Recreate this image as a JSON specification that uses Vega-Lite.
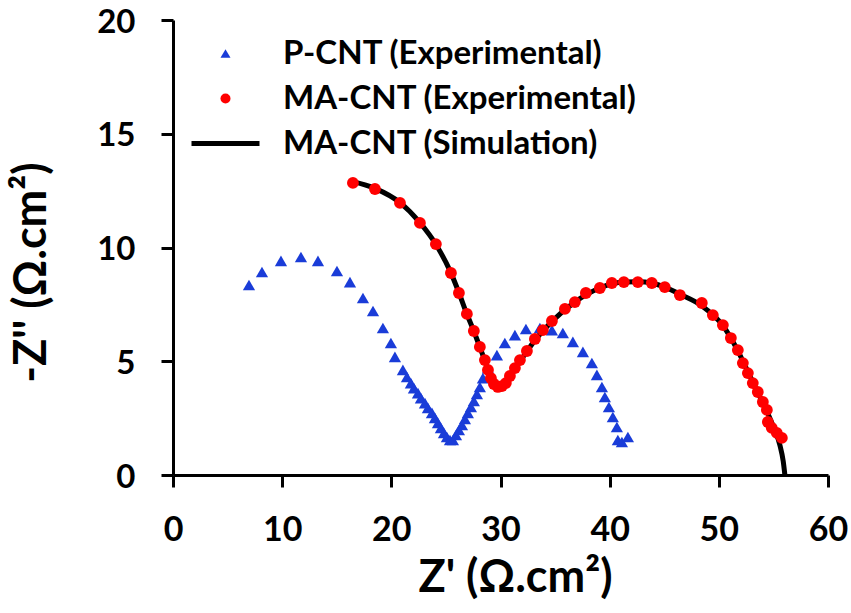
{
  "$schema": "https://vega.github.io/schema/vega-lite/v6.json",
  "width": 655,
  "height": 455,
  "autosize": {"type": "none"},
  "padding": {"left": 173, "top": 20, "right": 23, "bottom": 138},
  "background": "white",
  "config": {
    "view": {"stroke": null},
    "font": "Lato",
    "axis": {
      "grid": false,
      "domainColor": "black",
      "domainWidth": 3,
      "tickColor": "black",
      "tickWidth": 3,
      "tickSize": 12,
      "labelFont": "Lato",
      "labelFontWeight": "bold",
      "labelFontSize": 34,
      "labelColor": "black",
      "labelPadding": 26,
      "labelFlush": false,
      "labelOverlap": false,
      "titleFont": "Lato",
      "titleFontWeight": "bold",
      "titleFontSize": 45,
      "titleColor": "black"
    },
    "legend": {
      "labelFont": "Lato",
      "labelFontWeight": "bold",
      "labelFontSize": 33,
      "labelColor": "black",
      "labelLimit": 600
    }
  },
  "datasets": {
    "pcnt": [
      {"s": "P-CNT (Experimental)", "x": 6.96, "y": 8.35},
      {"s": "P-CNT (Experimental)", "x": 8.15, "y": 8.92},
      {"s": "P-CNT (Experimental)", "x": 9.89, "y": 9.41},
      {"s": "P-CNT (Experimental)", "x": 11.72, "y": 9.58},
      {"s": "P-CNT (Experimental)", "x": 13.28, "y": 9.41},
      {"s": "P-CNT (Experimental)", "x": 15.02, "y": 8.97},
      {"s": "P-CNT (Experimental)", "x": 16.21, "y": 8.48},
      {"s": "P-CNT (Experimental)", "x": 17.40, "y": 7.78},
      {"s": "P-CNT (Experimental)", "x": 18.32, "y": 7.21},
      {"s": "P-CNT (Experimental)", "x": 19.23, "y": 6.46},
      {"s": "P-CNT (Experimental)", "x": 19.96, "y": 5.80},
      {"s": "P-CNT (Experimental)", "x": 20.33, "y": 5.19},
      {"s": "P-CNT (Experimental)", "x": 21.06, "y": 4.62},
      {"s": "P-CNT (Experimental)", "x": 21.43, "y": 4.31},
      {"s": "P-CNT (Experimental)", "x": 21.79, "y": 4.04},
      {"s": "P-CNT (Experimental)", "x": 22.07, "y": 3.82},
      {"s": "P-CNT (Experimental)", "x": 22.44, "y": 3.60},
      {"s": "P-CNT (Experimental)", "x": 22.71, "y": 3.38},
      {"s": "P-CNT (Experimental)", "x": 23.08, "y": 3.16},
      {"s": "P-CNT (Experimental)", "x": 23.35, "y": 2.95},
      {"s": "P-CNT (Experimental)", "x": 23.72, "y": 2.73},
      {"s": "P-CNT (Experimental)", "x": 23.99, "y": 2.51},
      {"s": "P-CNT (Experimental)", "x": 24.27, "y": 2.29},
      {"s": "P-CNT (Experimental)", "x": 24.54, "y": 2.07},
      {"s": "P-CNT (Experimental)", "x": 24.82, "y": 1.85},
      {"s": "P-CNT (Experimental)", "x": 25.09, "y": 1.67},
      {"s": "P-CNT (Experimental)", "x": 25.37, "y": 1.54},
      {"s": "P-CNT (Experimental)", "x": 25.64, "y": 1.54},
      {"s": "P-CNT (Experimental)", "x": 25.92, "y": 1.76},
      {"s": "P-CNT (Experimental)", "x": 26.19, "y": 1.98},
      {"s": "P-CNT (Experimental)", "x": 26.47, "y": 2.20},
      {"s": "P-CNT (Experimental)", "x": 26.74, "y": 2.46},
      {"s": "P-CNT (Experimental)", "x": 27.01, "y": 2.73},
      {"s": "P-CNT (Experimental)", "x": 27.29, "y": 2.99},
      {"s": "P-CNT (Experimental)", "x": 27.56, "y": 3.25},
      {"s": "P-CNT (Experimental)", "x": 27.84, "y": 3.56},
      {"s": "P-CNT (Experimental)", "x": 28.11, "y": 3.87},
      {"s": "P-CNT (Experimental)", "x": 28.39, "y": 4.26},
      {"s": "P-CNT (Experimental)", "x": 28.85, "y": 4.70},
      {"s": "P-CNT (Experimental)", "x": 29.67, "y": 5.27},
      {"s": "P-CNT (Experimental)", "x": 30.40, "y": 5.80},
      {"s": "P-CNT (Experimental)", "x": 31.32, "y": 6.15},
      {"s": "P-CNT (Experimental)", "x": 32.33, "y": 6.42},
      {"s": "P-CNT (Experimental)", "x": 33.61, "y": 6.46},
      {"s": "P-CNT (Experimental)", "x": 34.71, "y": 6.37},
      {"s": "P-CNT (Experimental)", "x": 35.71, "y": 6.24},
      {"s": "P-CNT (Experimental)", "x": 36.63, "y": 5.85},
      {"s": "P-CNT (Experimental)", "x": 37.55, "y": 5.41},
      {"s": "P-CNT (Experimental)", "x": 38.37, "y": 4.92},
      {"s": "P-CNT (Experimental)", "x": 38.83, "y": 4.40},
      {"s": "P-CNT (Experimental)", "x": 39.29, "y": 3.87},
      {"s": "P-CNT (Experimental)", "x": 39.56, "y": 3.43},
      {"s": "P-CNT (Experimental)", "x": 39.93, "y": 2.99},
      {"s": "P-CNT (Experimental)", "x": 40.29, "y": 2.55},
      {"s": "P-CNT (Experimental)", "x": 40.66, "y": 2.11},
      {"s": "P-CNT (Experimental)", "x": 40.75, "y": 1.54},
      {"s": "P-CNT (Experimental)", "x": 41.12, "y": 1.45},
      {"s": "P-CNT (Experimental)", "x": 41.67, "y": 1.67}
    ],
    "macnt": [
      {"s": "MA-CNT (Experimental)", "x": 16.48, "y": 12.84},
      {"s": "MA-CNT (Experimental)", "x": 18.50, "y": 12.57},
      {"s": "MA-CNT (Experimental)", "x": 20.79, "y": 11.96},
      {"s": "MA-CNT (Experimental)", "x": 22.62, "y": 11.08},
      {"s": "MA-CNT (Experimental)", "x": 24.08, "y": 10.15},
      {"s": "MA-CNT (Experimental)", "x": 25.46, "y": 8.88},
      {"s": "MA-CNT (Experimental)", "x": 26.19, "y": 8.00},
      {"s": "MA-CNT (Experimental)", "x": 26.92, "y": 7.08},
      {"s": "MA-CNT (Experimental)", "x": 27.56, "y": 6.33},
      {"s": "MA-CNT (Experimental)", "x": 28.11, "y": 5.63},
      {"s": "MA-CNT (Experimental)", "x": 28.57, "y": 5.05},
      {"s": "MA-CNT (Experimental)", "x": 28.85, "y": 4.62},
      {"s": "MA-CNT (Experimental)", "x": 29.12, "y": 4.26},
      {"s": "MA-CNT (Experimental)", "x": 29.40, "y": 4.00},
      {"s": "MA-CNT (Experimental)", "x": 29.76, "y": 3.87},
      {"s": "MA-CNT (Experimental)", "x": 30.13, "y": 3.91},
      {"s": "MA-CNT (Experimental)", "x": 30.49, "y": 4.04},
      {"s": "MA-CNT (Experimental)", "x": 30.86, "y": 4.35},
      {"s": "MA-CNT (Experimental)", "x": 31.32, "y": 4.70},
      {"s": "MA-CNT (Experimental)", "x": 31.78, "y": 5.05},
      {"s": "MA-CNT (Experimental)", "x": 32.42, "y": 5.45},
      {"s": "MA-CNT (Experimental)", "x": 33.15, "y": 5.98},
      {"s": "MA-CNT (Experimental)", "x": 33.88, "y": 6.37},
      {"s": "MA-CNT (Experimental)", "x": 34.71, "y": 6.77},
      {"s": "MA-CNT (Experimental)", "x": 35.90, "y": 7.30},
      {"s": "MA-CNT (Experimental)", "x": 36.81, "y": 7.60},
      {"s": "MA-CNT (Experimental)", "x": 37.82, "y": 8.00},
      {"s": "MA-CNT (Experimental)", "x": 39.10, "y": 8.22},
      {"s": "MA-CNT (Experimental)", "x": 40.20, "y": 8.44},
      {"s": "MA-CNT (Experimental)", "x": 41.30, "y": 8.48},
      {"s": "MA-CNT (Experimental)", "x": 42.58, "y": 8.48},
      {"s": "MA-CNT (Experimental)", "x": 43.86, "y": 8.44},
      {"s": "MA-CNT (Experimental)", "x": 45.05, "y": 8.26},
      {"s": "MA-CNT (Experimental)", "x": 46.43, "y": 7.91},
      {"s": "MA-CNT (Experimental)", "x": 48.44, "y": 7.56},
      {"s": "MA-CNT (Experimental)", "x": 49.45, "y": 7.03},
      {"s": "MA-CNT (Experimental)", "x": 50.37, "y": 6.59},
      {"s": "MA-CNT (Experimental)", "x": 51.10, "y": 6.02},
      {"s": "MA-CNT (Experimental)", "x": 51.74, "y": 5.49},
      {"s": "MA-CNT (Experimental)", "x": 52.20, "y": 4.92},
      {"s": "MA-CNT (Experimental)", "x": 52.66, "y": 4.48},
      {"s": "MA-CNT (Experimental)", "x": 53.11, "y": 4.04},
      {"s": "MA-CNT (Experimental)", "x": 53.57, "y": 3.65},
      {"s": "MA-CNT (Experimental)", "x": 54.03, "y": 3.21},
      {"s": "MA-CNT (Experimental)", "x": 54.40, "y": 2.86},
      {"s": "MA-CNT (Experimental)", "x": 54.49, "y": 2.33},
      {"s": "MA-CNT (Experimental)", "x": 54.85, "y": 2.07},
      {"s": "MA-CNT (Experimental)", "x": 55.31, "y": 1.85},
      {"s": "MA-CNT (Experimental)", "x": 55.77, "y": 1.63}
    ],
    "sim": [
      {"o": 1, "x": 16.3, "y": 12.92},
      {"o": 2, "x": 18.5, "y": 12.6},
      {"o": 3, "x": 20.8, "y": 11.97},
      {"o": 4, "x": 22.6, "y": 11.1},
      {"o": 5, "x": 24.1, "y": 10.12},
      {"o": 6, "x": 25.4, "y": 8.95},
      {"o": 7, "x": 26.2, "y": 8.0},
      {"o": 8, "x": 26.9, "y": 7.1},
      {"o": 9, "x": 27.55, "y": 6.33},
      {"o": 10, "x": 28.1, "y": 5.63},
      {"o": 11, "x": 28.6, "y": 4.98},
      {"o": 12, "x": 29.0, "y": 4.45},
      {"o": 13, "x": 29.4, "y": 4.05},
      {"o": 14, "x": 29.8, "y": 3.88},
      {"o": 15, "x": 30.2, "y": 3.92},
      {"o": 16, "x": 30.8, "y": 4.3},
      {"o": 17, "x": 31.8, "y": 5.0},
      {"o": 18, "x": 33.2, "y": 5.95},
      {"o": 19, "x": 34.7, "y": 6.75},
      {"o": 20, "x": 36.8, "y": 7.6},
      {"o": 21, "x": 39.1, "y": 8.22},
      {"o": 22, "x": 41.3, "y": 8.48},
      {"o": 23, "x": 42.6, "y": 8.49},
      {"o": 24, "x": 43.9, "y": 8.43},
      {"o": 25, "x": 45.1, "y": 8.25},
      {"o": 26, "x": 46.5, "y": 7.93},
      {"o": 27, "x": 48.4, "y": 7.45},
      {"o": 28, "x": 50.4, "y": 6.55},
      {"o": 29, "x": 51.7, "y": 5.5},
      {"o": 30, "x": 52.7, "y": 4.5},
      {"o": 31, "x": 53.6, "y": 3.6},
      {"o": 32, "x": 54.4, "y": 2.8},
      {"o": 33, "x": 55.1, "y": 2.0},
      {"o": 34, "x": 55.6, "y": 1.3},
      {"o": 35, "x": 55.9, "y": 0.6},
      {"o": 36, "x": 56.05, "y": 0.0}
    ]
  },
  "encoding": {
    "x": {
      "field": "x",
      "type": "quantitative",
      "scale": {"domain": [0, 60], "nice": false, "zero": false},
      "axis": {"values": [0, 10, 20, 30, 40, 50, 60], "title": "Z' (Ω.cm²)", "titlePadding": 8, "titleX": 342, "titleAnchor": "start", "titleAlign": "center"}
    },
    "y": {
      "field": "y",
      "type": "quantitative",
      "scale": {"domain": [0, 20], "nice": false, "zero": false},
      "axis": {"values": [0, 5, 10, 15, 20], "title": "-Z'' (Ω.cm²)", "titlePadding": 42, "titleY": 252, "titleAnchor": "start", "titleAlign": "center", "labelOffset": 2, "labelFontSize": 33}
    }
  },
  "layer": [
    {
      "data": {"name": "pcnt"},
      "mark": {"type": "point", "filled": true, "opacity": 1, "size": 150},
      "encoding": {
        "color": {
          "field": "s",
          "type": "nominal",
          "scale": {
            "domain": ["P-CNT (Experimental)", "MA-CNT (Experimental)", "MA-CNT (Simulation)"],
            "range": ["#1a3cd8", "#ff0000", "#000000"]
          },
          "legend": {
            "title": null,
            "orient": "none",
            "legendX": 36,
            "legendY": 17,
            "padding": 0,
            "symbolOffset": 0,
            "symbolSize": 100,
            "labelOffset": 41,
            "rowPadding": 11
          }
        },
        "shape": {
          "field": "s",
          "type": "nominal",
          "scale": {
            "domain": ["P-CNT (Experimental)", "MA-CNT (Experimental)", "MA-CNT (Simulation)"],
            "range": ["triangle-up", "circle", "M-6.8,-0.5H6.8V0.5H-6.8Z"]
          },
          "legend": {"title": null}
        }
      }
    },
    {
      "data": {"name": "sim"},
      "mark": {"type": "line", "color": "black", "strokeWidth": 5, "interpolate": "monotone"},
      "encoding": {"order": {"field": "o", "type": "quantitative"}}
    },
    {
      "data": {"name": "macnt"},
      "mark": {"type": "point", "filled": true, "opacity": 1, "size": 140},
      "encoding": {
        "color": {"field": "s", "type": "nominal"},
        "shape": {"field": "s", "type": "nominal"}
      }
    }
  ]
}
